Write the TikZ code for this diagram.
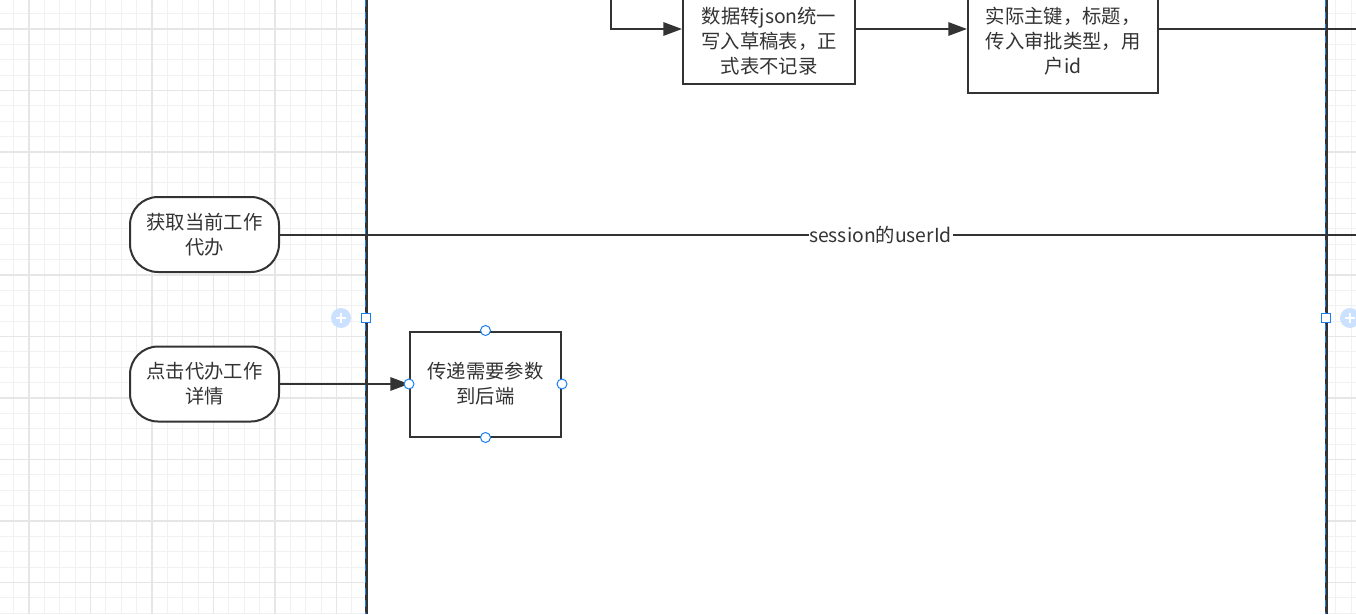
\documentclass[tikz,border=0pt]{standalone}
\usepackage{fontspec}
\setmainfont{Noto Sans CJK SC}
\usetikzlibrary{arrows.meta}
\definecolor{ink}{HTML}{333333}
\definecolor{gridminor}{HTML}{F1F1F1}
\definecolor{gridmajor}{HTML}{E6E6E6}
\definecolor{selblue}{HTML}{1A7FF0}
\definecolor{plusblue}{HTML}{CCE1FF}

\begin{document}
\begin{tikzpicture}[
	x=0.75pt, y=-0.75pt,
	font=\fontsize{14.5}{18.75}\selectfont,
	every node/.style={text=ink},
	proc/.style={draw=ink, line width=1.5pt, fill=white, align=center, inner sep=0pt},
	term/.style={proc, rounded corners=21pt},
	link/.style={draw=ink, line width=1.5pt},
	arr/.style={link, -{Triangle[length=14pt, width=10pt]}},
	handle/.style={circle, draw=selblue, fill=white, line width=0.75pt, minimum size=7.5pt, inner sep=0pt},
	corner/.style={rectangle, draw=selblue, fill=white, line width=0.75pt, minimum size=6.75pt, inner sep=0pt},
	addbtn/.style={circle, fill=plusblue, minimum size=15pt, inner sep=0pt}]
\useasboundingbox (0,0) rectangle (1356,614);
\clip (0,0) rectangle (1356,614);

% background grid
\foreach \i [evaluate=\i as \g using -1.75+15.375*\i] in {0,...,88}
	\draw[gridminor, line width=0.8pt] (\g,0) -- (\g,614);
\foreach \i [evaluate=\i as \g using -1.75+15.375*\i] in {0,...,40}
	\draw[gridminor, line width=0.8pt] (0,\g) -- (1356,\g);
\foreach \i [evaluate=\i as \g using 29+61.5*\i] in {0,...,21}
	\draw[gridmajor, line width=0.8pt] (\g,0) -- (\g,614);
\foreach \i [evaluate=\i as \g using 29+61.5*\i] in {0,...,9}
	\draw[gridmajor, line width=0.8pt] (0,\g) -- (1356,\g);
\fill[white] (366,0) rectangle (1326,614);

% lane borders (selected)
\foreach \x in {366,1326} {
	\draw[ink, line width=1.8pt] (\x+0.3,0) -- (\x+0.3,614);
	\draw[selblue, line width=0.9pt, dash pattern=on 5.25pt off 3.75pt] (\x-0.6,0) -- (\x-0.6,614);
	\node[corner] at (\x,318) {};
}
\node[addbtn] (addL) at (341,318) {};
\node[addbtn] (addR) at (1350,318) {};
\foreach \b in {addL,addR}
	\draw[white, line width=1.2pt] ([xshift=-4pt]\b.center) -- ([xshift=4pt]\b.center)
		([yshift=-4pt]\b.center) -- ([yshift=4pt]\b.center);

% nodes
\node[proc, minimum width=129pt, minimum height=82.5pt] (draft) at (769,29)
	{\phantom{数据}\\数据转json统一\\写入草稿表，正\\式表不记录};
\node[proc, minimum width=142.5pt, minimum height=96pt] (approve) at (1063,29)
	{\phantom{实际}\\实际主键，标题，\\传入审批类型，用\\户id};
\node[term, minimum width=111.75pt, minimum height=56.25pt] (fetch) at (204.5,234.5)
	{获取当前工作\\代办};
\node[term, minimum width=111.75pt, minimum height=56.25pt] (click) at (204.5,384)
	{点击代办工作\\详情};
\node[proc, minimum width=113.25pt, minimum height=78.75pt] (param) at (485.5,384)
	{传递需要参数\\到后端};

\coordinate (in1) at (611,-20);
\coordinate (out1) at (1420,29);
\coordinate (out2) at (1481,234.5);

% connectors
\draw[arr] (in1) |- (draft.west);
\draw[arr] (draft.east) -- (approve.west);
\draw[link] (approve.east) -- (out1);
\draw[link] (fetch.east) -- node[fill=white, inner sep=0.5pt] {session的userId} (out2);
\draw[arr] (click.east) -- (param.west);

% selection handles
\foreach \a in {north,south,east,west}
	\node[handle] at (param.\a) {};
\end{tikzpicture}
\end{document}
